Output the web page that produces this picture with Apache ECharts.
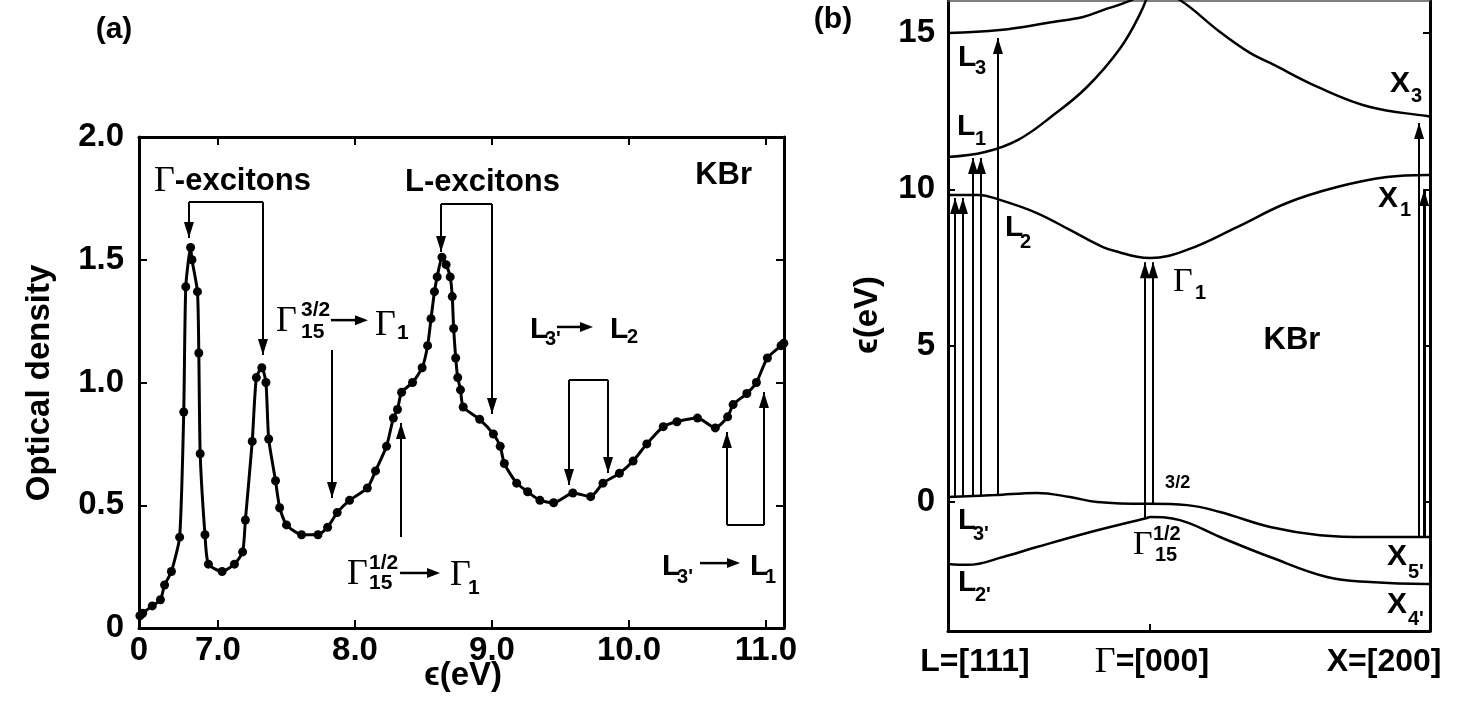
<!DOCTYPE html>
<html><head><meta charset="utf-8">
<script src="https://cdn.jsdelivr.net/npm/echarts@6/dist/echarts.min.js"></script>
<style>html,body{margin:0;padding:0;background:#fff;}#c{width:1457px;height:705px;}</style>
</head><body><div id="c"></div>
<script>
// ---------- Panel (a): optical density of KBr ----------
const energy = [6.43, 6.45, 6.52, 6.58, 6.61, 6.66, 6.72, 6.75, 6.765, 6.80, 6.81, 6.85, 6.86, 6.87, 6.905, 6.93, 7.03, 7.12, 7.18, 7.20, 7.25, 7.28, 7.32, 7.35, 7.37, 7.42, 7.45, 7.50, 7.61, 7.73, 7.80, 7.87, 7.96, 8.09, 8.15, 8.23, 8.28, 8.31, 8.34, 8.42, 8.49, 8.53, 8.555, 8.58, 8.60, 8.635, 8.665, 8.695, 8.71, 8.72, 8.735, 8.75, 8.77, 8.79, 8.91, 9.01, 9.06, 9.09, 9.18, 9.26, 9.35, 9.45, 9.59, 9.72, 9.81, 9.93, 10.03, 10.13, 10.25, 10.35, 10.50, 10.63, 10.72, 10.76, 10.86, 10.93, 11.01, 11.11, 11.13];
const density = [0.05, 0.06, 0.09, 0.115, 0.175, 0.23, 0.37, 0.88, 1.39, 1.55, 1.50, 1.37, 1.12, 0.71, 0.38, 0.26, 0.23, 0.26, 0.31, 0.44, 0.76, 1.02, 1.06, 1.00, 0.77, 0.60, 0.49, 0.42, 0.38, 0.38, 0.41, 0.47, 0.52, 0.57, 0.64, 0.74, 0.855, 0.89, 0.96, 1.00, 1.06, 1.15, 1.26, 1.37, 1.43, 1.51, 1.48, 1.43, 1.35, 1.22, 1.10, 1.02, 0.97, 0.90, 0.85, 0.79, 0.74, 0.67, 0.59, 0.555, 0.52, 0.51, 0.55, 0.535, 0.59, 0.63, 0.68, 0.75, 0.82, 0.84, 0.855, 0.815, 0.86, 0.91, 0.955, 1.00, 1.10, 1.15, 1.16];
const xRangeA = [6.4234, 11.1314];
const xTicksA = [7, 8, 9, 10, 11];
const yTicksA = [0, 0.5, 1.0, 1.5, 2.0];

// ---------- Panel (b): band structure (k: L=-0.7214, Gamma=0, X=1) ----------
const kRange = [-0.7214, 1];
const eRange = [-4.125, 16.02];
const eTicks = [0, 5, 10, 15];
const bandL3k = [-0.7214, -0.536, -0.346, -0.239, -0.168, -0.082, 0];
const bandL3E = [15.0, 15.09, 15.35, 15.51, 15.73, 15.99, 16.35];
const bandL1k = [-0.7214, -0.589, -0.471, -0.354, -0.225, -0.107, -0.036, 0];
const bandL1E = [11.03, 11.19, 11.58, 12.31, 13.27, 14.5, 15.6, 16.4];
const bandX3k = [0, 0.107, 0.25, 0.357, 0.429, 0.607, 0.786, 0.989, 1];
const bandX3E = [16.5, 16.05, 15.03, 14.36, 14.04, 13.24, 12.63, 12.34, 12.33];
const bandC1k = [-0.7214, -0.614, -0.536, -0.404, -0.286, -0.168, -0.107, -0.046, 0, 0.132, 0.311, 0.489, 0.668, 0.846, 0.989, 1];
const bandC1E = [9.82, 9.82, 9.66, 9.24, 8.70, 8.15, 7.98, 7.84, 7.80, 8.06, 8.79, 9.56, 10.07, 10.39, 10.46, 10.46];
const bandV1k = [-0.7214, -0.554, -0.404, -0.286, -0.189, -0.011, 0, 0.132, 0.25, 0.429, 0.607, 0.786, 1];
const bandV1E = [0.16, 0.22, 0.29, 0.16, 0.0, -0.06, -0.06, -0.1, -0.32, -0.8, -1.06, -1.12, -1.12];
const bandV2k = [-0.7214, -0.65, -0.525, -0.404, -0.225, -0.011, 0, 0.107, 0.25, 0.429, 0.632, 0.786, 0.989, 1];
const bandV2E = [-1.98, -2.01, -1.76, -1.44, -0.99, -0.51, -0.48, -0.58, -1.12, -1.76, -2.40, -2.56, -2.62, -2.62];
// transitions: k, from E, to E
const transK = [-0.696, -0.668, -0.632, -0.604, -0.543, -0.018, 0.011, 0.961, 0.979];
const transFrom = [0.18, 0.18, 0.18, 0.18, 0.2, -0.5, -0.06, -1.12, -1.12];
const transTo = [9.72, 9.72, 11.0, 11.0, 14.84, 7.67, 7.67, 12.12, 9.98];

const SANS = '"Liberation Sans", Arial, Helvetica, "DejaVu Sans", sans-serif';
const SERIF = '"Liberation Serif", "Times New Roman", serif';
const ARROW = 'path://M5,0 L10,16 L0,16 Z';
const pair = (a, b) => a.map((v, i) => [v, b[i]]);

function arrowLine(x1, y1, x2, y2, w) {
  return [{coord: [x1, y1], symbol: 'none'},
          {coord: [x2, y2], symbol: ARROW, symbolSize: [10, 16], symbolOffset: [0, 8], lineStyle: {width: w || 2}}];
}
function plainLine(x1, y1, x2, y2) {
  return [{coord: [x1, y1], symbol: 'none'}, {coord: [x2, y2], symbol: 'none'}];
}

// annotation arrows in panel (a), data space
const markA = [
  plainLine(6.788, 1.735, 7.328, 1.735),
  arrowLine(6.788, 1.735, 6.788, 1.589),
  arrowLine(7.328, 1.735, 7.328, 1.112),
  plainLine(8.628, 1.727, 9.0, 1.727),
  arrowLine(8.628, 1.727, 8.628, 1.532),
  arrowLine(9.0, 1.727, 9.0, 0.872),
  arrowLine(7.832, 1.132, 7.832, 0.53),
  arrowLine(8.336, 0.371, 8.336, 0.835),
  plainLine(9.562, 1.01, 9.847, 1.01),
  arrowLine(9.562, 1.01, 9.562, 0.582),
  arrowLine(9.847, 1.01, 9.847, 0.631),
  plainLine(10.715, 0.42, 10.985, 0.42),
  arrowLine(10.715, 0.42, 10.715, 0.798),
  arrowLine(10.985, 0.42, 10.985, 0.961)
];
const markB = transK.map((k, i) => arrowLine(k, transFrom[i], k, transTo[i], i >= 8 ? 3 : 2));

const axisLine = (w, c) => ({show: true, onZero: false, lineStyle: {color: c || '#000', width: w}});
const tickStyle = {color: '#000', width: 2};
const labelFont = {color: '#000', fontSize: 33, fontWeight: 'bold', fontFamily: SANS};

const bandSeries = (k, e) => ({
  type: 'line', xAxisIndex: 2, yAxisIndex: 2, data: pair(k, e), smooth: 0.4,
  symbol: 'none', lineStyle: {color: '#000', width: 2.5}, silent: true, z: 3
});

const option = {
  animation: false,
  backgroundColor: '#fff',
  grid: [
    {left: 139, top: 137, width: 645, height: 491},
    {left: 948, top: 1, width: 482, height: 630}
  ],
  xAxis: [
    {gridIndex: 0, type: 'value', position: 'bottom', min: xRangeA[0], max: xRangeA[1],
     axisLine: axisLine(3), splitLine: {show: false},
     axisTick: {show: true, inside: true, length: 8, lineStyle: tickStyle, customValues: xTicksA},
     axisLabel: Object.assign({margin: 6, customValues: [xRangeA[0]].concat(xTicksA),
       formatter: v => (v < 6.9 ? '0' : v.toFixed(1))}, labelFont)},
    {gridIndex: 0, type: 'value', position: 'top', min: xRangeA[0], max: xRangeA[1],
     axisLine: axisLine(3), splitLine: {show: false},
     axisTick: {show: true, inside: true, length: 8, lineStyle: tickStyle, customValues: xTicksA},
     axisLabel: {show: false}},
    {gridIndex: 1, type: 'value', position: 'bottom', min: kRange[0], max: kRange[1],
     axisLine: axisLine(3), splitLine: {show: false},
     axisTick: {show: true, inside: true, length: 7, lineStyle: tickStyle, customValues: [0]},
     axisLabel: {show: false}},
    {gridIndex: 1, type: 'value', position: 'top', min: kRange[0], max: kRange[1],
     axisLine: axisLine(1.5, '#555'), splitLine: {show: false}, axisTick: {show: false}, axisLabel: {show: false}}
  ],
  yAxis: [
    {gridIndex: 0, type: 'value', position: 'left', min: 0, max: 2, interval: 0.5,
     axisLine: axisLine(3), splitLine: {show: false},
     axisTick: {show: true, inside: true, length: 8, lineStyle: tickStyle},
     axisLabel: Object.assign({margin: 15, formatter: v => (v === 0 ? '0' : v.toFixed(1))}, labelFont)},
    {gridIndex: 0, type: 'value', position: 'right', min: 0, max: 2, interval: 0.5,
     axisLine: axisLine(3), splitLine: {show: false},
     axisTick: {show: true, inside: true, length: 8, lineStyle: tickStyle}, axisLabel: {show: false}},
    {gridIndex: 1, type: 'value', position: 'left', min: eRange[0], max: eRange[1],
     axisLine: axisLine(3), splitLine: {show: false},
     axisTick: {show: true, inside: true, length: 7, lineStyle: tickStyle, customValues: eTicks},
     axisLabel: Object.assign({margin: 13, customValues: eTicks, formatter: v => String(v)}, labelFont)},
    {gridIndex: 1, type: 'value', position: 'right', min: eRange[0], max: eRange[1],
     axisLine: axisLine(3), splitLine: {show: false},
     axisTick: {show: true, inside: true, length: 7, lineStyle: tickStyle, customValues: eTicks},
     axisLabel: {show: false}}
  ],
  series: [
    {type: 'line', xAxisIndex: 0, yAxisIndex: 0, data: pair(energy, density),
     smooth: 0.2, symbol: 'circle', symbolSize: 9, showSymbol: true,
     itemStyle: {color: '#000'}, lineStyle: {color: '#000', width: 3}, silent: true, z: 3,
     markLine: {silent: true, animation: false, label: {show: false}, emphasis: {disabled: true},
       lineStyle: {type: 'solid', color: '#000', width: 2}, itemStyle: {color: '#000'}, data: markA}},
    bandSeries(bandL3k, bandL3E),
    bandSeries(bandL1k, bandL1E),
    bandSeries(bandX3k, bandX3E),
    bandSeries(bandC1k, bandC1E),
    bandSeries(bandV1k, bandV1E),
    Object.assign(bandSeries(bandV2k, bandV2E), {
      markLine: {silent: true, animation: false, label: {show: false}, emphasis: {disabled: true},
        lineStyle: {type: 'solid', color: '#000', width: 2}, itemStyle: {color: '#000'}, data: markB}})
  ]
};

const chart = echarts.init(document.getElementById('c'), null, {renderer: 'canvas'});
chart.setOption(option);

// ---------- text annotations placed through the axes ----------
const toPx = (g, pt) => chart.convertToPixel(g === 0 ? {xAxisIndex: 0, yAxisIndex: 0} : {xAxisIndex: 2, yAxisIndex: 2}, pt);
const G = [];
function txt(x, y, text, size, fam, align, extra) {
  G.push(Object.assign({type: 'text', x: x, y: y, z: 100, silent: true,
    style: {text: text, fill: '#000', fontSize: size, fontFamily: fam === 'serif' ? SERIF : SANS,
      fontWeight: fam === 'serif' ? 'normal' : 'bold', align: align || 'left', verticalAlign: 'middle'}}, extra || {}));
}
function harrow(x1, x2, y) {
  G.push({type: 'line', z: 100, silent: true, shape: {x1: x1, y1: y, x2: x2 - 10, y2: y}, style: {stroke: '#000', lineWidth: 2.5}});
  G.push({type: 'polygon', z: 100, silent: true, shape: {points: [[x2, y], [x2 - 13, y - 5], [x2 - 13, y + 5]]}, style: {fill: '#000'}});
}
// composite label: parts [text, dx, dy, size, family], arrows [dx1, dx2, dy]
function comp(g, at, parts, arrows) {
  const p = toPx(g, at);
  parts.forEach(q => txt(p[0] + q[1], p[1] + q[2], q[0], q[3], q[4]));
  (arrows || []).forEach(a => harrow(p[0] + a[0], p[0] + a[1], p[1] + a[2]));
}
function richTxt(g, at, text, align, dy, gsize, ssize) {
  const p = toPx(g, at);
  G.push({type: 'text', x: p[0], y: p[1] + (dy || 0), z: 100, silent: true,
    style: {text: text, fill: '#000', align: align, verticalAlign: 'middle',
      rich: {g: {fontFamily: SERIF, fontSize: gsize, fontWeight: 'normal'}, s: {fontFamily: SANS, fontSize: ssize, fontWeight: 'bold'}}}});
}

// panel (a)
richTxt(0, [6.533, 1.817], '{g|Γ}{s|-excitons}', 'left', 0, 36, 31);
txt(toPx(0, [8.365, 1.813])[0], toPx(0, [8.365, 1.813])[1], 'L-excitons', 31, 'sans');
txt(toPx(0, [10.898, 1.845])[0], toPx(0, [10.898, 1.845])[1], 'KBr', 31, 'sans', 'right');
comp(0, [7.423, 1.25], [['Γ', 0, 0, 36, 'serif'], ['3/2', 25, -11, 21], ['15', 25, 11, 21], ['Γ', 99, 4, 36, 'serif'], ['1', 121, 12, 21]], [[55, 92, -1]]);
comp(0, [7.942, 0.216], [['Γ', 0, 0, 36, 'serif'], ['1/2', 22, -12, 21], ['15', 22, 8, 21], ['Γ', 103, 1, 36, 'serif'], ['1', 121, 13, 21]], [[53, 93, -2]]);
comp(0, [9.277, 1.214], [['L', 0, 0, 30], ["3'", 15, 10, 20], ['L', 80, 0, 30], ['2', 97, 8, 20]], [[27, 63, -3]]);
comp(0, [10.241, 0.248], [['L', 0, 0, 30], ["3'", 15, 10, 20], ['L', 88, 0, 30], ['1', 103, 10, 20]], [[38, 78, -4]]);
txt(40, 383, 'Optical density', 33, 'sans', 'center', {rotation: Math.PI / 2});
txt(463, 676, 'ϵ(eV)', 33, 'sans', 'center');
txt(114, 30, '(a)', 30, 'sans', 'center');

// panel (b)
comp(1, [-0.686, 14.2], [['L', 0, 0, 30], ['3', 17, 11, 20]]);
comp(1, [-0.689, 11.99], [['L', 0, 0, 30], ['1', 18, 12, 20]]);
comp(1, [-0.518, 8.76], [['L', 0, 0, 30], ['2', 15, 14, 20]]);
comp(1, [0.082, 7.04], [['Γ', 0, 0, 34, 'serif'], ['1', 22, 12, 20]]);
comp(1, [0.857, 13.37], [['X', 0, 0, 30], ['3', 21, 13, 20]]);
comp(1, [0.814, 9.69], [['X', 0, 0, 30], ['1', 22, 12, 20]]);
comp(1, [0.054, 0.61], [['3/2', 0, 0, 18]]);
comp(1, [-0.061, -1.375], [['Γ', 0, 0, 34, 'serif'], ['1/2', 20, -11, 20], ['15', 22, 10, 20]]);
comp(1, [-0.686, -0.61], [['L', 0, 0, 30], ["3'", 15, 13, 20]]);
comp(1, [-0.686, -2.59], [['L', 0, 0, 30], ["2'", 17, 12, 20]]);
comp(1, [0.846, -1.76], [['X', 0, 0, 30], ["5'", 21, 15, 20]]);
comp(1, [0.846, -3.29], [['X', 0, 0, 30], ["4'", 21, 15, 20]]);
(function () { const p = toPx(1, [0.507, 5.18]); txt(p[0], p[1], 'KBr', 31, 'sans', 'center'); })();
richTxt(1, [-0.625, -5.12], '{s|L=[111]}', 'center', 0, 34, 32);
richTxt(1, [0.007, -5.12], '{g|Γ}{s|=[000]}', 'center', 0, 36, 32);
richTxt(1, [0.836, -5.12], '{s|X=[200]}', 'center', 0, 34, 32);
txt(868, 315, 'ϵ(eV)', 33, 'sans', 'center', {rotation: Math.PI / 2});
txt(833, 20, '(b)', 30, 'sans', 'center');

chart.setOption({graphic: G});
</script>
</body></html>
